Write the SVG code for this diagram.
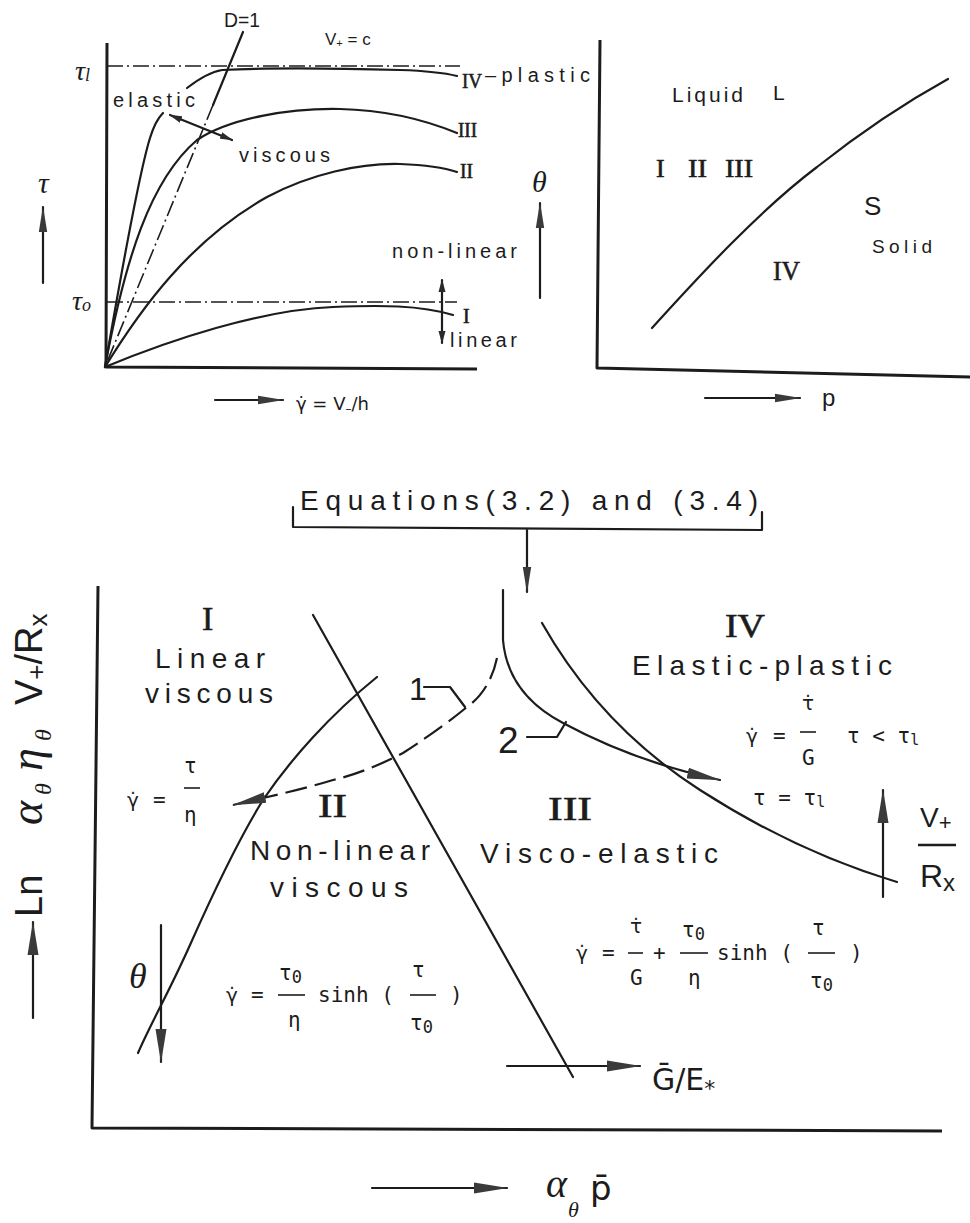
<svg xmlns="http://www.w3.org/2000/svg" width="970" height="1223" viewBox="0 0 970 1223">
<style>
.ln{fill:none;stroke:#1c1c1c;stroke-width:2.2;stroke-linecap:round;stroke-linejoin:round}
.ax{fill:none;stroke:#1c1c1c;stroke-width:3;stroke-linejoin:round}
.dd{fill:none;stroke:#1c1c1c;stroke-width:1.6;stroke-dasharray:16 4 2 4}
.dash{fill:none;stroke:#1c1c1c;stroke-width:2.2;stroke-dasharray:22 8}
.bar{stroke:#1c1c1c;stroke-width:1.6}
.sans{font-family:"Liberation Sans",Arial,sans-serif;fill:#1c1c1c}
.dv{font-family:"DejaVu Sans","Liberation Sans",sans-serif;fill:#1c1c1c}
.ser{font-family:"Liberation Serif","Times New Roman",serif;fill:#1c1c1c}
.rom{font-family:"Liberation Serif","Times New Roman",serif;fill:#1c1c1c;stroke:#1c1c1c;stroke-width:0.6}
.mono{font-family:"DejaVu Sans Mono","Liberation Mono",monospace;fill:#1c1c1c}
.it{font-style:italic}
</style>
<defs>
<marker id="big" markerUnits="userSpaceOnUse" viewBox="0 0 34 14" markerWidth="34" markerHeight="14" refX="33" refY="7" orient="auto"><path d="M0,1.5 L34,7 L0,12.5 Z" fill="#3a3a3a"/></marker>
<marker id="sm" markerUnits="userSpaceOnUse" viewBox="0 0 26 10" markerWidth="26" markerHeight="10" refX="25" refY="5" orient="auto"><path d="M0,0.8 L26,5 L0,9.2 Z" fill="#3a3a3a"/></marker>
<marker id="tiny" markerUnits="userSpaceOnUse" viewBox="0 0 13 8" markerWidth="13" markerHeight="8" refX="12" refY="4" orient="auto-start-reverse"><path d="M0,0.5 L13,4 L0,7.5 Z" fill="#2a2a2a"/></marker>
</defs>
<rect width="970" height="1223" fill="#ffffff"/>

<g id="chart-tau-gamma">
<path class="ax" d="M107,43 L106,367 L477,369"/>
<path class="dd" d="M107,66 H460"/>
<path class="dd" d="M107,302 H457"/>
<path class="ln" d="M243,32 L213,105" stroke-width="1.6"/>
<path class="dd" d="M213,105 L105,367"/>
<path class="ln" d="M105,367 C120,280 140,170 150,138 C154,125 158,118 163,113"/>
<path class="ln" d="M187,88 C200,78 210,72 222,70 C260,68 330,68 400,70 C430,71 445,73 457,76"/>
<path class="ln" d="M105,367 C125,260 150,180 197,140 C230,118 290,108 340,109 C390,110 430,122 457,133"/>
<path class="ln" d="M105,367 C140,310 190,240 267,197 C310,174 360,163 400,164 C425,165 445,168 457,172"/>
<path class="ln" d="M105,367 C170,340 260,310 333,307 C380,305 420,305 453,315"/>
<path class="ln" d="M170,115 L232,140" stroke-width="1.6" marker-start="url(#tiny)" marker-end="url(#tiny)"/>
<path class="ln" d="M442,280 V343" stroke-width="1.6" marker-start="url(#tiny)" marker-end="url(#tiny)"/>
<path class="ln" d="M43,283 V207" stroke-width="2" marker-end="url(#sm)"/>
<path class="ln" d="M540,298 V203" stroke-width="2" marker-end="url(#sm)"/>
<path class="ln" d="M215,400 H283" stroke-width="2" marker-end="url(#sm)"/>
<text class="ser it" x="75" y="80" font-size="28">τ<tspan font-size="18" dy="1">l</tspan></text>
<text class="ser it" x="72" y="310" font-size="28">τ<tspan font-size="18" dy="1">o</tspan></text>
<text class="sans" x="224" y="27" font-size="20" textLength="36" lengthAdjust="spacingAndGlyphs">D=1</text>
<text class="sans" x="325" y="45" font-size="17">V<tspan font-size="11" dy="2">+</tspan><tspan dy="-2"> = c</tspan></text>
<text class="sans" x="113" y="107" font-size="20" textLength="82">elastic</text>
<text class="sans" x="239" y="162" font-size="20" textLength="91">viscous</text>
<text class="rom" x="462" y="88" font-size="21" textLength="20" lengthAdjust="spacingAndGlyphs">IV</text>
<text class="sans" x="485" y="82" font-size="20" textLength="105">–plastic</text>
<text class="rom" x="458" y="137" font-size="20" textLength="19" lengthAdjust="spacingAndGlyphs">III</text>
<text class="rom" x="460" y="178" font-size="20" textLength="13" lengthAdjust="spacingAndGlyphs">II</text>
<text class="rom" x="463" y="323" font-size="20">I</text>
<text class="sans" x="392" y="258" font-size="20" textLength="125">non-linear</text>
<text class="sans" x="450" y="347" font-size="20" textLength="67">linear</text>
<text class="ser it" x="38" y="193" font-size="30">τ</text>
<text class="ser it" x="532" y="192" font-size="30">θ</text>
<text class="dv" x="296" y="410" font-size="18">γ̇ = V<tspan font-size="12" dy="3">–</tspan><tspan dy="-3">/h</tspan></text>
</g>

<g id="chart-phase">
<path class="ax" d="M600,40 L597,368 L970,377"/>
<path class="ln" d="M652,328 C700,275 760,210 817,167 C870,125 910,100 948,79"/>
<text class="sans" x="672" y="102" font-size="21" textLength="71">Liquid</text>
<text class="sans" x="773" y="100" font-size="21">L</text>
<text class="rom" x="656" y="177" font-size="26">I</text>
<text class="rom" x="688" y="177" font-size="26" textLength="19" lengthAdjust="spacingAndGlyphs">II</text>
<text class="rom" x="725" y="177" font-size="26" textLength="28" lengthAdjust="spacingAndGlyphs">III</text>
<text class="sans" x="864" y="215" font-size="26">S</text>
<text class="sans" x="872" y="253" font-size="19" textLength="60">Solid</text>
<text class="rom" x="773" y="280" font-size="28" textLength="27" lengthAdjust="spacingAndGlyphs">IV</text>
<path class="ln" d="M705,398 H800" stroke-width="2" marker-end="url(#sm)"/>
<text class="sans" x="822" y="406" font-size="24">p</text>
</g>

<g id="chart-regimes">
<path class="ax" d="M98,586 L92,1128 L942,1131"/>
<path class="ln" d="M293,507 V527 L762,530 V512"/>
<text class="sans" x="300" y="510" font-size="28" textLength="458">Equations(3.2) and (3.4)</text>
<path class="ln" d="M527,530 V592" stroke-width="2" marker-end="url(#sm)"/>
<path class="ln" d="M313,615 L573,1077"/>
<path class="ln" d="M377,677 C330,715 290,760 263,800 C235,845 210,900 190,945 C170,990 150,1025 138,1053"/>
<path class="ln" d="M503,590 V640 C506,675 525,703 563,723 C600,743 650,765 720,780" stroke-width="2.4" marker-end="url(#big)"/>
<path class="dash" d="M497,658 C492,682 480,698 467,707 C445,725 420,742 403,753 C380,765 355,775 333,780 C310,787 285,793 263,798 L233,805" marker-end="url(#big)"/>
<path class="ln" d="M542,623 C580,690 630,745 700,790 C770,835 840,865 897,882" stroke-width="2.6"/>
<path class="ln" d="M424,687 H450 L465,707" stroke-width="1.6"/>
<path class="ln" d="M527,737 H557 L566,722" stroke-width="1.6"/>
<text class="sans" x="409" y="700" font-size="32">1</text>
<text class="sans" x="498" y="753" font-size="37">2</text>
<path class="ln" d="M161,925 V1062" stroke-width="2.2" marker-end="url(#big)"/>
<path class="ln" d="M883,897 V790" stroke-width="2.2" marker-end="url(#big)"/>
<path class="ln" d="M507,1066 H640" stroke-width="2.4" marker-end="url(#big)"/>
<path class="ln" d="M372,1188 H507" stroke-width="2.4" marker-end="url(#big)"/>
<path class="ln" d="M33,1018 V922" stroke-width="2.2" marker-end="url(#big)"/>

<text class="rom" x="202" y="630" font-size="34">I</text>
<text class="sans" x="155" y="668" font-size="28" textLength="110">Linear</text>
<text class="sans" x="145" y="703" font-size="28" textLength="128">viscous</text>
<text class="rom" x="318" y="817" font-size="34" textLength="29" lengthAdjust="spacingAndGlyphs">II</text>
<text class="sans" x="250" y="860" font-size="28" textLength="180">Non-linear</text>
<text class="sans" x="270" y="897" font-size="28" textLength="138">viscous</text>
<text class="rom" x="548" y="820" font-size="34" textLength="44" lengthAdjust="spacingAndGlyphs">III</text>
<text class="sans" x="480" y="863" font-size="28" textLength="238">Visco-elastic</text>
<text class="rom" x="725" y="637" font-size="34" textLength="40" lengthAdjust="spacingAndGlyphs">IV</text>
<text class="sans" x="632" y="675" font-size="28" textLength="260">Elastic-plastic</text>
<text class="ser it" x="129" y="988" font-size="36">θ</text>

<text class="dv" x="127" y="807" font-size="20">γ̇</text>
<text class="mono" x="153" y="807" font-size="21">=</text>
<text class="mono" x="184" y="773" font-size="21">τ</text>
<line class="bar" x1="184" y1="788" x2="200" y2="788"/>
<text class="mono" x="184" y="822" font-size="21">η</text>

<text class="dv" x="226" y="1002" font-size="20">γ̇</text>
<text class="mono" x="251" y="1002" font-size="21">=</text>
<text class="mono" x="279" y="980" font-size="21">τ<tspan font-size="17" dy="3">0</tspan></text>
<line class="bar" x1="278" y1="995" x2="305" y2="995"/>
<text class="mono" x="288" y="1027" font-size="21">η</text>
<text class="mono" x="318" y="1002" font-size="21">sinh (</text>
<text class="mono" x="412" y="977" font-size="21">τ</text>
<line class="bar" x1="410" y1="995" x2="436" y2="995"/>
<text class="mono" x="410" y="1030" font-size="21">τ<tspan font-size="17" dy="3">0</tspan></text>
<text class="mono" x="450" y="1002" font-size="21">)</text>

<text class="dv" x="576" y="960" font-size="20">γ̇</text>
<text class="mono" x="602" y="960" font-size="21">=</text>
<text class="dv" x="630" y="933" font-size="20">τ̇</text>
<line class="bar" x1="628" y1="953" x2="643" y2="953"/>
<text class="mono" x="630" y="985" font-size="21">G</text>
<text class="mono" x="653" y="960" font-size="21">+</text>
<text class="mono" x="682" y="937" font-size="21">τ<tspan font-size="17" dy="3">0</tspan></text>
<line class="bar" x1="680" y1="953" x2="708" y2="953"/>
<text class="mono" x="688" y="985" font-size="21">η</text>
<text class="mono" x="717" y="960" font-size="21">sinh (</text>
<text class="mono" x="812" y="935" font-size="21">τ</text>
<line class="bar" x1="808" y1="953" x2="835" y2="953"/>
<text class="mono" x="810" y="988" font-size="21">τ<tspan font-size="17" dy="3">0</tspan></text>
<text class="mono" x="850" y="960" font-size="21">)</text>

<text class="dv" x="746" y="743" font-size="20">γ̇</text>
<text class="mono" x="773" y="743" font-size="21">=</text>
<text class="dv" x="802" y="710" font-size="20">τ̇</text>
<line class="bar" x1="800" y1="732" x2="816" y2="732"/>
<text class="mono" x="802" y="765" font-size="21">G</text>
<text class="mono" x="847" y="743" font-size="21">τ &lt; τ<tspan font-size="15" dy="2">l</tspan></text>
<text class="mono" x="753" y="805" font-size="21">τ = τ<tspan font-size="15" dy="2">l</tspan></text>

<text class="sans" x="920" y="827" font-size="28">V<tspan font-size="22" dy="3">+</tspan></text>
<line x1="918" y1="845" x2="956" y2="845" stroke="#1c1c1c" stroke-width="2.4"/>
<text class="sans" x="920" y="887" font-size="32">R<tspan font-size="24" dy="4">x</tspan></text>

<text class="dv" x="652" y="1090" font-size="30">Ḡ/E<tspan font-size="22" dy="6">*</tspan></text>
<text class="ser it" x="546" y="1197" font-size="40">α</text>
<text class="ser it" x="568" y="1217" font-size="22">θ</text>
<text class="dv" x="590" y="1200" font-size="34">p̄</text>

<g transform="translate(42,917) rotate(-90)">
<text class="sans" x="0" y="0" font-size="38">Ln</text>
<text class="ser it" x="92" y="0" font-size="46">α</text>
<text class="ser it" x="122" y="9" font-size="24">θ</text>
<text class="ser it" x="146" y="0" font-size="46">η</text>
<text class="ser it" x="176" y="9" font-size="24">θ</text>
<text class="sans" x="212" y="0" font-size="38">V<tspan font-size="26" dy="3">+</tspan><tspan dy="-3">/R</tspan><tspan font-size="26" dy="5">x</tspan></text>
</g>
</g>
</svg>
